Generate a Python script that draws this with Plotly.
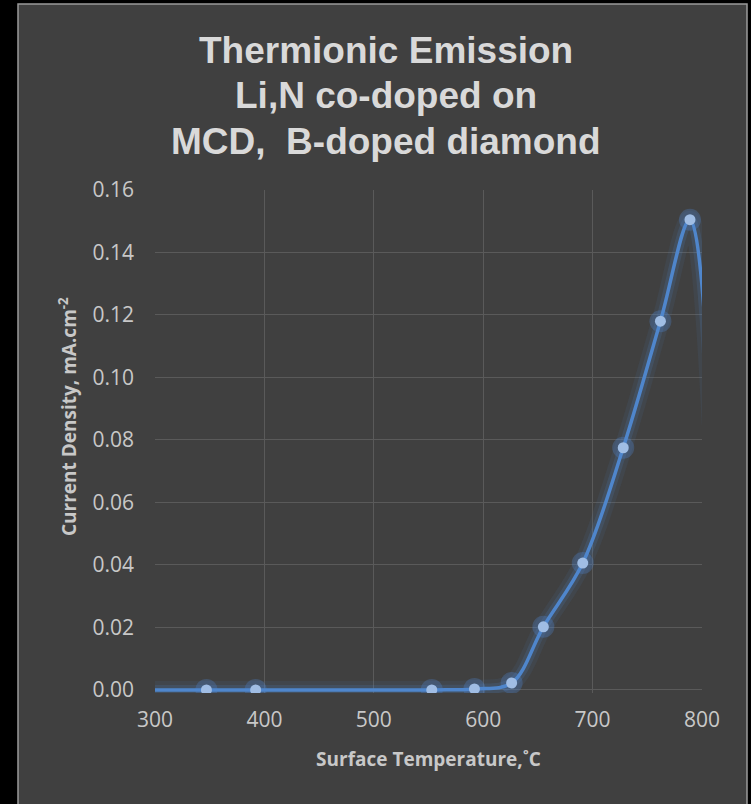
import plotly.graph_objects as go

# Data
temperature_c = [280, 347, 392, 553, 592, 626, 655, 691, 728, 762, 789, 808]
current_density = [0.0, 0.0, 0.0, 0.0, 0.0003, 0.0022, 0.0202, 0.0406, 0.0775, 0.118, 0.1505, 0.085]

x_ticks = [300, 400, 500, 600, 700, 800]
y_ticks = [0.00, 0.02, 0.04, 0.06, 0.08, 0.10, 0.12, 0.14, 0.16]
y_tick_labels = ["0.00", "0.02", "0.04", "0.06", "0.08", "0.10", "0.12", "0.14", "0.16"]

title_lines = ["Thermionic Emission", "Li,N co-doped on", "MCD,  B-doped diamond"]

W, H = 751, 804
L, R, T, B = 155, 49, 190, 111
X_MIN, X_MAX = 300, 800

BLUE = "#4F86CC"
MARKER = "#A0BDE4"
BG = "#404040"
GRID = "#5A5A5A"
TXT = "#C8C8C8"

# points visible inside the axis range (markers only drawn for these)
vis = [i for i, t in enumerate(temperature_c) if X_MIN <= t <= X_MAX]
vis_x = [temperature_c[i] for i in vis]
vis_y = [current_density[i] for i in vis]

fig = go.Figure()

# glow layers
fig.add_trace(go.Scatter(
    x=temperature_c, y=current_density, mode="lines",
    line=dict(color="rgba(79,134,204,0.09)", width=18, shape="spline", smoothing=1),
    hoverinfo="skip", showlegend=False))
fig.add_trace(go.Scatter(
    x=temperature_c, y=current_density, mode="lines",
    line=dict(color="rgba(79,134,204,0.16)", width=10, shape="spline", smoothing=1),
    hoverinfo="skip", showlegend=False))
fig.add_trace(go.Scatter(
    x=vis_x, y=vis_y, mode="markers",
    marker=dict(size=22, color="rgba(79,134,204,0.30)", line=dict(width=0)),
    hoverinfo="skip", showlegend=False))
# main line
fig.add_trace(go.Scatter(
    x=temperature_c, y=current_density, mode="lines",
    line=dict(color=BLUE, width=3.5, shape="spline", smoothing=1),
    showlegend=False))
fig.add_trace(go.Scatter(
    x=vis_x, y=vis_y, mode="markers",
    marker=dict(size=11, color=MARKER, line=dict(width=0)),
    showlegend=False))

# chart panel background with thin light border
px0, px1 = 18, 747
py0, py1 = 4, 812
plot_w = W - L - R
plot_h = H - T - B
fig.add_shape(type="rect", xref="paper", yref="paper",
              x0=(px0 - L) / plot_w, x1=(px1 - L) / plot_w,
              y0=(H - B - py1) / plot_h, y1=(H - B - py0) / plot_h,
              fillcolor=BG, line=dict(color="#9A9A9A", width=1.5), layer="below")

annotations = []
title_centers_px = [50, 95.5, 141]
for line, cy in zip(title_lines, title_centers_px):
    annotations.append(dict(
        text="<b>" + line + "</b>", xref="paper", yref="paper",
        x=(385.6 - L) / plot_w, y=(H - B - cy) / plot_h,
        xanchor="center", yanchor="middle", showarrow=False,
        font=dict(family="Liberation Sans, Arial, sans-serif", size=37, color="#D9D9D9"),
    ))
annotations.append(dict(
    text="<b>Current Density, mA.cm<sup>-2</sup></b>",
    xref="paper", yref="paper",
    x=(68 - L) / plot_w, y=(H - B - 417) / plot_h,
    xanchor="center", yanchor="middle", textangle=-90, showarrow=False,
    font=dict(family="Open Sans, sans-serif", size=19, color=TXT),
))

fig.update_layout(
    width=W, height=H,
    margin=dict(l=L, r=R, t=T, b=B, pad=0),
    paper_bgcolor="black",
    plot_bgcolor="rgba(0,0,0,0)",
    xaxis=dict(
        range=[X_MIN, X_MAX], tickvals=x_ticks, ticktext=[str(v) for v in x_ticks],
        showgrid=True, gridcolor=GRID, gridwidth=1.3, zeroline=False,
        showline=False, ticks="",
        tickfont=dict(family="Open Sans, sans-serif", size=21, color=TXT),
        ticklabelstandoff=12,
        title=dict(text="<b>Surface Temperature,˚C</b>", standoff=20,
                   font=dict(family="Open Sans, sans-serif", size=19, color=TXT)),
    ),
    yaxis=dict(
        range=[-0.001, 0.16], tickvals=y_ticks, ticktext=y_tick_labels,
        showgrid=True, gridcolor=GRID, gridwidth=1.3, zeroline=False,
        showline=False, ticks="",
        tickfont=dict(family="Open Sans, sans-serif", size=21, color=TXT),
        ticklabelstandoff=20,
    ),
    annotations=annotations,
)

fig.write_html("out.html")
